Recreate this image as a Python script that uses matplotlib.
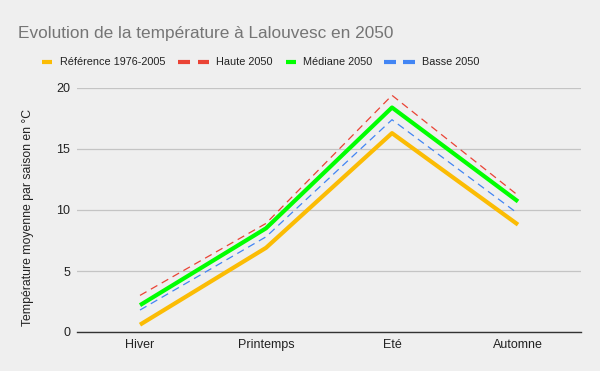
import matplotlib
matplotlib.use("Agg")
import matplotlib.pyplot as plt
from matplotlib.lines import Line2D

# saisons et températures moyennes (°C)
saisons = ["Hiver", "Printemps", "Eté", "Automne"]
reference = [0.6, 6.9, 16.3, 8.8]
haute = [3.0, 8.9, 19.4, 11.2]
mediane = [2.2, 8.5, 18.4, 10.7]
basse = [1.8, 7.8, 17.4, 9.7]

BG = "#efefef"
TXT = "#222222"
plt.rcParams["font.family"] = ["Liberation Sans", "DejaVu Sans"]

W, H = 600, 371
fig = plt.figure(figsize=(W / 100, H / 100), dpi=100, facecolor=BG)
ax = fig.add_axes([77 / W, 1 - 332 / H, 504 / W, 244 / H], facecolor=BG)

series = [
    ("Référence 1976-2005", reference, "#fbbc04", "-", 3),
    ("Haute 2050", haute, "#ea4335", (0, (6, 4)), 0.9),
    ("Médiane 2050", mediane, "#00ff00", "-", 3),
    ("Basse 2050", basse, "#4285f4", (0, (6, 4)), 0.9),
]
x = range(len(saisons))
for lab, vals, col, ls, lw in series:
    ax.plot(x, vals, color=col, lw=lw, ls=ls, label=lab, solid_capstyle="butt")

ax.set_xlim(-0.5, 3.5)
ax.set_ylim(0, 20)
ax.set_yticks([0, 5, 10, 15, 20])
ax.set_xticks(list(x))
ax.set_xticklabels(saisons)
ax.tick_params(length=0, labelsize=9, colors=TXT, pad=5)
ax.grid(axis="y", color="#c4c4c4", lw=0.9)
ax.set_axisbelow(True)
for s in ["top", "right", "left"]:
    ax.spines[s].set_visible(False)
ax.spines["bottom"].set_color("#333333")
ax.spines["bottom"].set_linewidth(1)

ax.set_ylabel("Température moyenne par saison en °C", fontsize=8.8, color=TXT)
ax.yaxis.set_label_coords((34 - 77) / 504, 0.47)

fig.text(18 / W, 1 - 38 / H, "Evolution de la température à Lalouvesc en 2050",
         fontsize=12.4, color="#757575", va="baseline")

# légende faite à la main, comme dans Google Sheets (traits courts / double tiret)
ly = 1 - 62 / H
leg = [  # (segments en px, x du texte)
    ([(42, 52)], 60),
    ([(178, 190), (198, 209)], 216),
    ([(286, 296)], 303),
    ([(384, 396), (403, 415)], 422),
]
for (segs, tx), (lab, _, col, _, _) in zip(leg, series):
    for a, b in segs:
        fig.add_artist(Line2D([a / W, b / W], [ly, ly], color=col, lw=3,
                              solid_capstyle="butt", transform=fig.transFigure))
    fig.text(tx / W, ly, lab, fontsize=7.8, color=TXT, va="center")

fig.savefig("out.png", dpi=100, facecolor=BG)
